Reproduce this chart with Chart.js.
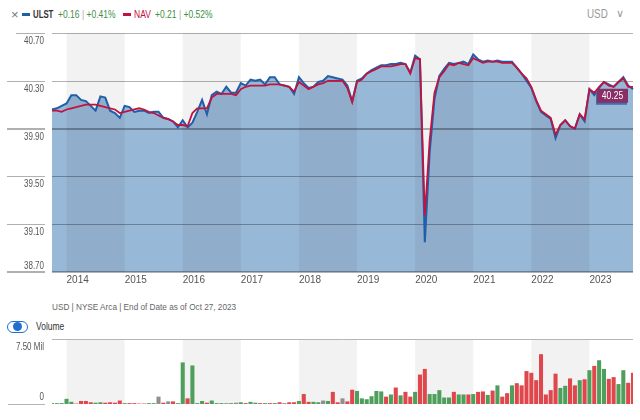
<!DOCTYPE html>
<html>
<head>
<meta charset="utf-8">
<script src="https://cdn.jsdelivr.net/npm/chart.js@4.4.0/dist/chart.umd.min.js"></script>
<style>
  body { margin: 0; width: 640px; height: 420px; background: #fff; position: relative; overflow: hidden;
         font-family: 'Liberation Sans', Arial, sans-serif; }
  .t { position: absolute; white-space: nowrap; line-height: 1; transform-origin: 0 0; }
  .n { transform: scaleX(0.85); }
  #main { position: absolute; left: 0; top: 0; }
  #vol { position: absolute; left: 0; top: 300px; }
</style>
</head>
<body>
<div class="t" style="left:11px;top:8px;font-size:13px;color:#777;">&times;</div>
<div class="t" style="left:22px;top:13px;width:8px;height:3px;background:#1f5fa9;"></div>
<div class="t n" style="left:33px;top:10px;font-size:10px;font-weight:bold;color:#333;transform:scaleX(0.78);">ULST</div>
<div class="t n" style="left:58px;top:10px;font-size:10px;color:#3f8f46;">+0.16 <span style="color:#aaa">|</span> +0.41%</div>
<div class="t" style="left:123px;top:13px;width:8px;height:3px;background:#c2133f;"></div>
<div class="t n" style="left:134px;top:10px;font-size:10px;color:#c2133f;">NAV</div>
<div class="t n" style="left:155px;top:10px;font-size:10px;color:#3f8f46;">+0.21 <span style="color:#aaa">|</span> +0.52%</div>
<div class="t" style="left:587px;top:8px;font-size:12px;color:#999;transform:scaleX(0.82);">USD</div>
<div class="t" style="left:616px;top:8px;font-size:11px;color:#999;">&#8744;</div>

<div class="t" style="left:52px;top:303px;font-size:9px;color:#666;transform:scaleX(0.91);">USD | NYSE Arca | End of Date as of Oct 27, 2023</div>
<div class="t" style="left:7px;top:321px;width:19px;height:10px;border:1px solid #1f6fd1;border-radius:6px;"></div>
<div class="t" style="left:13px;top:322px;width:9px;height:9px;border-radius:50%;background:#1f6fd1;"></div>
<div class="t n" style="left:36px;top:322px;font-size:10px;color:#333;">Volume</div>

<canvas id="main" width="640" height="300"></canvas>
<canvas id="vol" width="640" height="120"></canvas>

<script>
// monthly data, Oct 2013 .. Oct 2023
const startYear = 2013, startMonth = 10;
const months = [];
for (let i = 0; i < 121; i++) {
  const mm = (startMonth - 1 + i) % 12 + 1;
  const yy = startYear + Math.floor((startMonth - 1 + i) / 12);
  months.push(yy + '-' + String(mm).padStart(2, '0'));
}
const bandYears = [2014, 2016, 2018, 2020, 2022];
const yTicks = ['40.70', '40.30', '39.90', '39.50', '39.10', '38.70'];
const volTicks = ['7.50 Mil', '0'];

const ulst = [
  40.06, 40.07, 40.09, 40.11, 40.18, 40.18, 40.14, 40.13, 40.09, 40.05,
  40.17, 40.16, 40.05, 40.03, 39.99, 40.09, 40.08, 40.04, 40.05, 40.05,
  40.03, 40.04, 40.04, 39.99, 39.98, 39.96, 39.91, 39.97, 39.91, 39.95,
  40.04, 40.14, 40.02, 40.18, 40.21, 40.19, 40.25, 40.20, 40.20, 40.28,
  40.26, 40.31, 40.30, 40.31, 40.27, 40.33, 40.33, 40.27, 40.26, 40.25,
  40.19, 40.33, 40.28, 40.24, 40.25, 40.29, 40.30, 40.34, 40.33, 40.32,
  40.31, 40.26, 40.13, 40.30, 40.32, 40.36, 40.39, 40.41, 40.43, 40.43,
  40.44, 40.44, 40.45, 40.44, 40.37, 40.51, 40.48, 38.95, 39.70, 40.15,
  40.34, 40.40, 40.45, 40.44, 40.45, 40.46, 40.44, 40.52, 40.48, 40.46,
  40.47, 40.46, 40.47, 40.46, 40.46, 40.46, 40.41, 40.36, 40.30, 40.24,
  40.13, 40.04, 40.01, 39.98, 39.82, 39.93, 39.97, 39.92, 39.90, 40.02,
  39.96, 40.23, 40.18, 40.24, 40.29, 40.27, 40.25, 40.29, 40.33, 40.26,
  40.23
];
const nav = [
  40.05, 40.05, 40.04, 40.06, 40.07, 40.08, 40.09, 40.10, 40.10, 40.10,
  40.09, 40.08, 40.07, 40.06, 40.03, 40.04, 40.05, 40.06, 40.07, 40.06,
  40.04, 40.03, 40.01, 39.99, 39.98, 39.96, 39.93, 39.93, 39.92, 40.03,
  40.07, 40.07, 40.07, 40.16, 40.19, 40.19, 40.19, 40.19, 40.18, 40.23,
  40.25, 40.26, 40.26, 40.26, 40.26, 40.27, 40.27, 40.27, 40.26, 40.25,
  40.21, 40.29, 40.26, 40.23, 40.25, 40.27, 40.28, 40.30, 40.30, 40.30,
  40.30, 40.24, 40.12, 40.29, 40.31, 40.36, 40.38, 40.40, 40.42, 40.42,
  40.42, 40.43, 40.44, 40.44, 40.36, 40.49, 40.48, 39.17, 39.80, 40.20,
  40.33, 40.38, 40.44, 40.43, 40.45, 40.44, 40.43, 40.49, 40.47, 40.45,
  40.46, 40.46, 40.46, 40.45, 40.45, 40.45, 40.41, 40.36, 40.32, 40.25,
  40.14, 40.05, 40.02, 39.99, 39.85, 39.93, 39.97, 39.92, 39.90, 40.02,
  39.98, 40.23, 40.20, 40.25, 40.29, 40.26, 40.25, 40.29, 40.32, 40.25,
  40.25
];
// volume in millions of shares
const volume = [
  0.1, 0.1, 0.1, 0.6, 0.25, 0.05, 0.35, 0.35, 0.2, 0.15,
  0.2, 0.15, 0.2, 0.15, 0.4, 0.1, 0.1, 0.1, 0.05, 0.05,
  0.1, 0.1, 0.85, 0.15, 0.3, 0.3, 0.1, 4.8, 0.65, 4.45,
  0.1, 0.35, 0.15, 0.4, 0.1, 0.1, 0.1, 0.1, 0.15, 0.2,
  0.1, 0.25, 0.15, 0.1, 0.1, 0.1, 0.1, 0.2, 0.1, 0.2,
  0.2, 0.35, 1.15, 0.25, 0.25, 0.2, 0.4, 0.35, 1.4, 0.2,
  0.65, 0.3, 1.65, 1.5, 0.65, 0.55, 0.9, 1.5, 1.45, 0.85,
  1.1, 1.9, 1.0, 1.4, 0.85, 1.4, 3.4, 4.05, 1.15, 1.15,
  1.6, 0.75, 0.75, 1.4, 1.1, 1.1, 1.1, 1.15, 1.4, 1.45,
  1.05, 1.55, 2.15, 0.85, 1.25, 2.15, 2.4, 2.15, 3.8, 3.6,
  2.75, 5.75, 1.1, 1.6, 3.5, 1.85, 2.1, 2.95, 2.15, 2.75,
  2.85, 3.9, 4.4, 5.05, 4.05, 2.9, 3.1, 2.3, 3.9, 2.45,
  3.6
];
// u = up, d = down, n = unchanged
const volDir = [
  'u','u','u','u','u','d','d','d','d','u',
  'u','d','d','d','d','u','d','d','d','d',
  'u','u','n','d','n','d','u','u','d','u',
  'u','u','d','u','u','u','n','u','n','u',
  'd','u','u','d','u','d','u','d','n','d',
  'd','u','d','d','u','u','n','u','d','d',
  'n','d','d','u','u','u','u','u','u','d',
  'u','d','u','d','d','u','d','d','u','u',
  'u','u','u','d','u','u','d','u','d','d',
  'u','d','u','d','d','u','d','d','d','d',
  'd','d','d','d','d','u','u','d','d','u',
  'd','u','d','u','u','d','d','u','u','d',
  'd'
];
const dirColors = { u: '#4f9f5c', d: '#e0474c', n: '#8f8f8f' };

const FONT = "'Liberation Sans', Arial, sans-serif";

function bandRanges(chart) {
  const x = chart.scales.x;
  return bandYears.map(y => {
    const i = months.indexOf(y + '-01');
    const j = Math.min(i + 12, months.length - 1);
    return [x.getPixelForValue(i), x.getPixelForValue(j)];
  });
}

// narrow text: draw with horizontal squeeze
function narrowText(ctx, text, x, y, sx) {
  ctx.save();
  ctx.translate(x, y);
  ctx.scale(sx, 1);
  ctx.fillText(text, 0, 0);
  ctx.restore();
}

const mainDecor = {
  id: 'mainDecor',
  beforeDatasetDraw(chart, args) {
    if (args.index !== 0) return;
    const { ctx, chartArea: a } = chart;
    ctx.save();
    ctx.fillStyle = 'rgba(0,0,0,0.05)';
    bandRanges(chart).forEach(([x0, x1]) => ctx.fillRect(x0, a.top, x1 - x0, a.bottom - a.top));
    const y = chart.scales.y;
    yTicks.forEach((t, k) => {
      const py = Math.round(y.getPixelForValue(parseFloat(t)));
      const thick = (t === '39.90' || t === '38.70');
      const off = thick ? 0 : 0.5;
      ctx.strokeStyle = 'rgba(0,0,0,0.3)';
      ctx.lineWidth = thick ? 2 : 1;
      ctx.beginPath();
      ctx.moveTo(a.left, py + off);
      ctx.lineTo(a.right, py + off);
      ctx.stroke();
      ctx.strokeStyle = '#b0b0b0';
      ctx.beginPath();
      ctx.moveTo(k === 0 ? 16 : 7, py + off);
      ctx.lineTo(45, py + off);
      ctx.stroke();
      ctx.fillStyle = '#555';
      ctx.font = '10px ' + FONT;
      ctx.textAlign = 'right';
      ctx.textBaseline = 'middle';
      narrowText(ctx, t, 44, k === yTicks.length - 1 ? py - 6 : py + 8, 0.8);
    });
    ctx.restore();
  },
  afterDraw(chart) {
    const { ctx, chartArea: a } = chart;
    const py = chart.scales.y.getPixelForValue(nav[nav.length - 1]);
    const w = 31, h = 14, x0 = a.right - 36, y0 = py + 2;
    ctx.save();
    ctx.fillStyle = '#3f6fb0';
    ctx.fillRect(x0 - 1, y0 + 2, w, h);
    ctx.fillStyle = '#8a2f66';
    ctx.fillRect(x0, y0, w, h);
    ctx.fillStyle = '#fff';
    ctx.font = '10px ' + FONT;
    ctx.textAlign = 'center';
    ctx.textBaseline = 'middle';
    narrowText(ctx, nav[nav.length - 1].toFixed(2), x0 + w / 2, y0 + h / 2 + 0.5, 0.85);
    ctx.restore();
  }
};

new Chart(document.getElementById('main'), {
  type: 'line',
  data: {
    labels: months,
    datasets: [
      { label: 'ULST', data: ulst, borderColor: '#1f5fa9', borderWidth: 2, pointRadius: 0,
        fill: 'start', backgroundColor: 'rgb(152,184,215)', tension: 0, order: 1 },
      { label: 'NAV', data: nav, borderColor: '#c2133f', borderWidth: 1.8, pointRadius: 0,
        fill: false, tension: 0, order: 0 }
    ]
  },
  options: {
    responsive: false,
    animation: false,
    events: [],
    layout: { padding: { left: 52, right: 7, top: 33, bottom: 0 } },
    plugins: { legend: { display: false }, tooltip: { enabled: false } },
    scales: {
      x: {
        offset: false,
        grid: { display: false, drawTicks: false },
        border: { display: false },
        ticks: {
          autoSkip: false, maxRotation: 0, minRotation: 0, align: 'start', padding: 2,
          color: '#555', font: { size: 10, family: FONT },
          callback: (v, i) => months[i].endsWith('-01') ? months[i].slice(0, 4) : ''
        },
        afterFit: s => { s.height = 28; }
      },
      y: { display: false, min: 38.7, max: 40.7, ticks: { stepSize: 0.4 } }
    }
  },
  plugins: [mainDecor]
});

const volDecor = {
  id: 'volDecor',
  beforeDatasetsDraw(chart) {
    const { ctx, chartArea: a } = chart;
    ctx.save();
    ctx.fillStyle = '#f2f2f2';
    bandRanges(chart).forEach(([x0, x1]) => ctx.fillRect(x0, a.top, x1 - x0, a.bottom - a.top));
    ctx.strokeStyle = '#b5b5b5';
    ctx.lineWidth = 1;
    ctx.beginPath();
    ctx.moveTo(a.left, a.top + 0.5);
    ctx.lineTo(a.right, a.top + 0.5);
    ctx.moveTo(8, a.bottom + 0.5);
    ctx.lineTo(45, a.bottom + 0.5);
    ctx.stroke();
    ctx.fillStyle = '#555';
    ctx.font = '10px ' + FONT;
    ctx.textAlign = 'right';
    ctx.textBaseline = 'middle';
    const y = chart.scales.y;
    narrowText(ctx, volTicks[0], 44, y.getPixelForValue(y.max) + 8, 0.8);
    narrowText(ctx, volTicks[1], 44, y.getPixelForValue(0) - 7, 0.8);
    ctx.restore();
  }
};

new Chart(document.getElementById('vol'), {
  type: 'bar',
  data: {
    labels: months,
    datasets: [{
      data: volume,
      backgroundColor: volDir.map(d => dirColors[d]),
      borderWidth: 0,
      categoryPercentage: 1,
      barPercentage: 0.84
    }]
  },
  options: {
    responsive: false,
    animation: false,
    events: [],
    layout: { padding: { left: 52, right: 7, top: 39, bottom: 16 } },
    plugins: { legend: { display: false }, tooltip: { enabled: false } },
    scales: {
      x: { display: false, offset: false },
      y: { display: false, min: 0, max: 7.5 }
    }
  },
  plugins: [volDecor]
});
</script>
</body>
</html>
